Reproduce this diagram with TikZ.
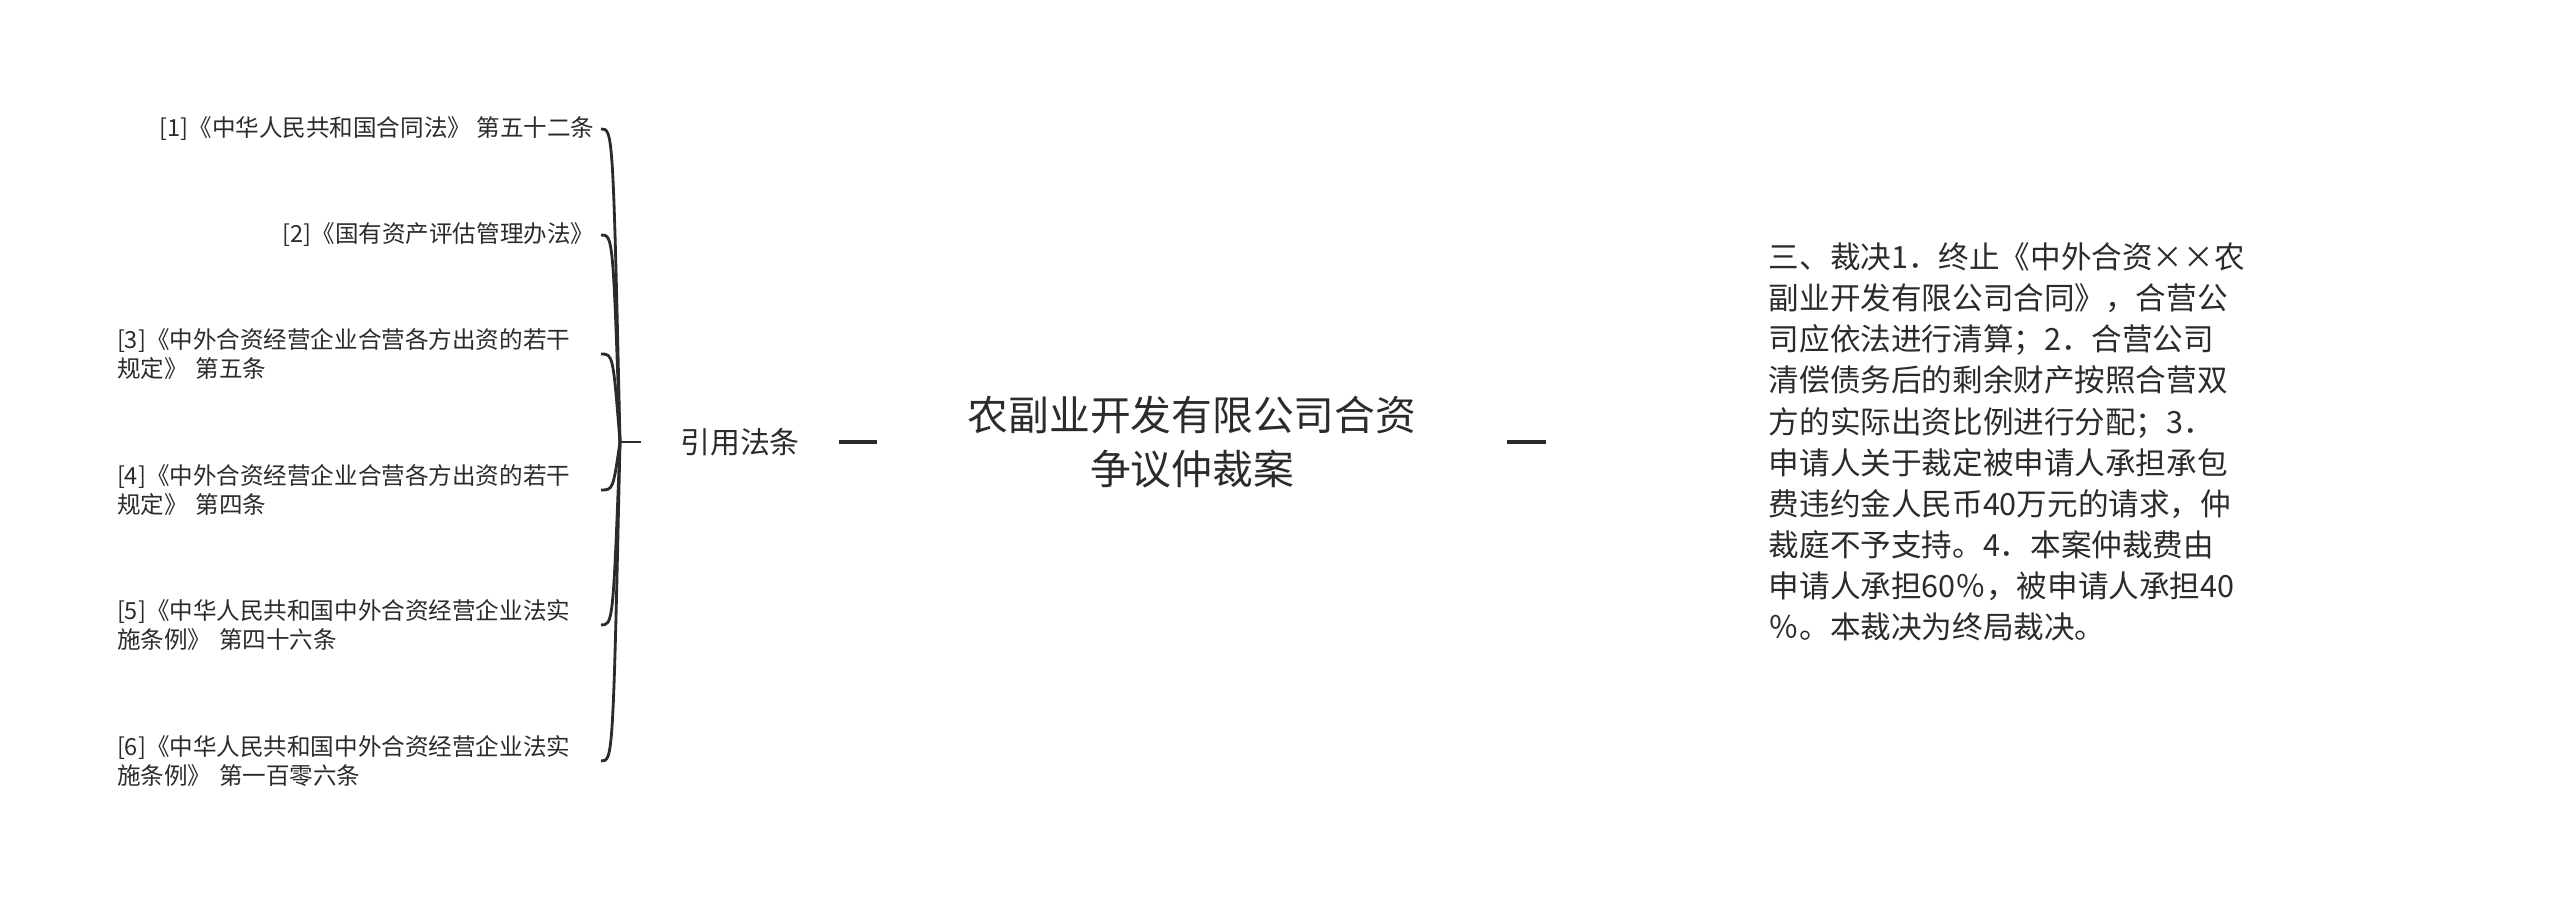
\documentclass[tikz,border=0pt]{standalone}
\usepackage{fontspec}
\newfontfamily\cjk{Noto Sans CJK SC}
\usepackage{xcolor}
\usetikzlibrary{positioning}
\definecolor{inkgray}{HTML}{2B2B2B}

\begin{document}
\begin{tikzpicture}[
        x=0.01cm, y=0.01cm,
        every node/.style = {inner sep=0pt, text=inkgray},
        lawnode/.style = {anchor=east, inner xsep=0.06cm, font=\cjk\fontsize{6.7}{8.4}\selectfont},
        lawwide/.style = {lawnode, text width=4.77cm, align=left},
        brace/.style = {draw=inkgray, line width=0.8pt},
        link/.style = {draw=inkgray, line width=1pt}
        ]
        \useasboundingbox (0,0) rectangle (2560,904);
        \node (root) [inner xsep=0.9cm, align=center, font=\cjk\fontsize{11.6}{15.4}\selectfont] at (1192,462) {农副业开发有限公司合资\\争议仲裁案};
        \node (ref) [inner xsep=0.38cm, font=\cjk\fontsize{8.5}{10}\selectfont] at (740,462) {引用法条};
        \node (verdict) [anchor=west, inner xsep=2.22cm, align=left, font=\cjk\fontsize{8.7}{11.7}\selectfont] at (1546,462) {三、裁决1．终止《中外合资××农\\副业开发有限公司合同》，合营公\\司应依法进行清算；2．合营公司\\清偿债务后的剩余财产按照合营双\\方的实际出资比例进行分配；3．\\申请人关于裁定被申请人承担承包\\费违约金人民币40万元的请求，仲\\裁庭不予支持。4．本案仲裁费由\\申请人承担60％，被申请人承担40\\％。本裁决为终局裁决。};
        \coordinate (junction) at (620,462);
        \coordinate (hook) at (613,462);
        \node (law1) [lawnode] at (601,775) {[1]《中华人民共和国合同法》 第五十二条};
        \node (law2) [lawnode] at (601,669) {[2]《国有资产评估管理办法》};
        \node (law3) [lawwide] at (601,550) {[3]《中外合资经营企业合营各方出资的若干\\规定》 第五条};
        \node (law4) [lawwide] at (601,414) {[4]《中外合资经营企业合营各方出资的若干\\规定》 第四条};
        \node (law5) [lawwide] at (601,279) {[5]《中华人民共和国中外合资经营企业法实\\施条例》 第四十六条};
        \node (law6) [lawwide] at (601,143) {[6]《中华人民共和国中外合资经营企业法实\\施条例》 第一百零六条};
        \draw[link] (ref.east) -- (root.west);
        \draw[link] (root.east) -- (verdict.west);
        \draw[brace] (junction) -- (ref.west);
        \foreach \i in {1,...,6}
          \draw[brace] (junction) .. controls (law\i.east -| hook) and (law\i.east -| hook) .. (law\i.east);
\end{tikzpicture}
\end{document}
